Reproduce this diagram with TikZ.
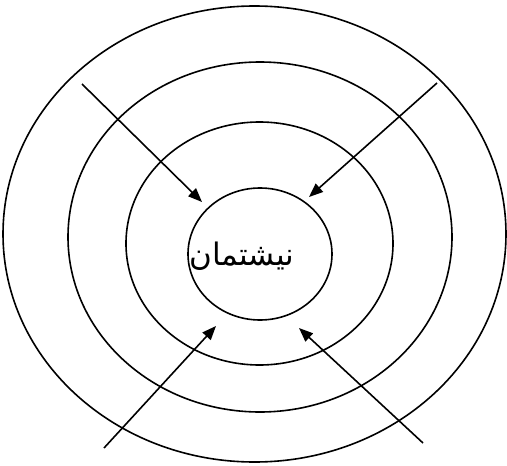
\documentclass[tikz,border=0pt]{standalone}
\usepackage{fontspec}
\usepackage{tikz}
\usetikzlibrary{arrows.meta,shapes.geometric}
\TeXXeTstate=1
\newfontfamily\arabicfont[Script=Arabic]{DejaVu Sans}
\tikzset{
  ring/.style  ={ellipse,draw=black,line width=1.6pt,inner sep=0pt},
  arr/.style   ={-{Triangle[length=14pt,width=11pt]},line width=1.6pt,draw=black},
  word/.style  ={font=\arabicfont\fontsize{31}{35}\selectfont,inner sep=0pt},
}
\begin{document}
\begin{tikzpicture}[x=1pt,y=-1pt]
  \useasboundingbox (0,0) rectangle (507,466);
  % rings
  \node[ring, minimum width=503pt, minimum height=456pt] (outer) at (254.5,234) {};
  \node[ring, minimum width=384pt, minimum height=350pt] (second) at (260,237) {};
  \node[ring, minimum width=267pt, minimum height=243pt] (third) at (259.5,243.5) {};
  \node[ring, minimum width=144pt, minimum height=132pt] (inner) at (260,254) {};
  \node[word] (label) at (242,256) {\beginR نیشتمان\endR};

  % arrow ends
  \coordinate (tlS) at (82,84);   \coordinate (tlE) at (202,202);
  \coordinate (trS) at (437,83);  \coordinate (trE) at (309,197);
  \coordinate (blS) at (104,448); \coordinate (blE) at (216,326);
  \coordinate (brS) at (423,443); \coordinate (brE) at (299,328);

  \draw[arr] (tlS) -- (tlE);
  \draw[arr] (trS) -- (trE);
  \draw[arr] (blS) -- (blE);
  \draw[arr] (brS) -- (brE);
\end{tikzpicture}
\end{document}
